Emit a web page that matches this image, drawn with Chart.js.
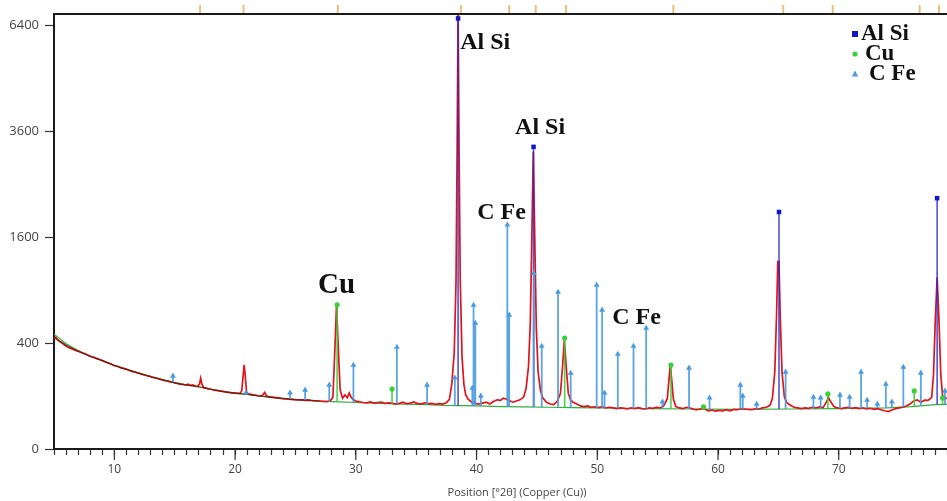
<!DOCTYPE html>
<html>
<head>
<meta charset="utf-8">
<script src="https://cdn.jsdelivr.net/npm/chart.js@4.4.1/dist/chart.umd.min.js"></script>
<style>
html, body { margin: 0; padding: 0; background: #fff; overflow: hidden; }
#wrap { width: 947px; height: 501px; overflow: hidden; }
</style>
</head>
<body>
<div id="wrap"><canvas id="xrdCanvas" width="980" height="501"></canvas></div>
<script>
// observed scan: [2theta, counts]
const observed = [
  [5.0,432],[5.15,444],[5.3,425],[5.5,410],[5.7,398],[5.9,382],[6.1,372],[6.3,364],[6.5,356],[6.7,350],
  [6.9,343],[7.1,338],[7.3,330],[7.5,325],[7.7,318],[7.9,310],[8.1,304],[8.3,300],[8.5,292],[8.7,288],
  [8.9,281],[9.1,276],[9.3,268],[9.5,263],[9.7,258],[9.9,250],[10.1,246],[10.3,242],[10.5,236],[10.7,231],
  [10.9,229],[11.1,224],[11.3,218],[11.5,213],[11.7,211],[11.9,206],[12.1,203],[12.3,198],[12.5,195],[12.7,191],
  [12.9,189],[13.1,184],[13.3,181],[13.5,178],[13.7,175],[13.9,171],[14.1,168],[14.3,166],[14.5,163],[14.7,160],
  [14.9,158],[15.1,154],[15.3,152],[15.5,149],[15.7,148],[15.9,146],[16.1,150],[16.3,144],[16.5,146],[16.7,141],
  [16.9,140],[17.05,150],[17.15,178],[17.25,150],[17.4,134],[17.6,132],[17.8,129],[18.0,127],[18.2,124],[18.4,122],
  [18.6,121],[18.8,119],[19.0,118],[19.2,116],[19.4,114],[19.6,113],[19.8,112],[20.0,111],[20.2,110],[20.4,110],
  [20.55,120],[20.65,180],[20.75,252],[20.85,185],[20.95,115],[21.1,108],[21.3,106],[21.5,104],[21.7,103],[21.9,101],
  [22.1,100],[22.3,104],[22.45,114],[22.6,101],[22.8,97],[23.0,96],[23.2,95],[23.4,94],[23.6,93],[23.8,91],
  [24.0,90],[24.3,89],[24.6,88],[24.9,87],[25.2,86],[25.5,86],[25.8,84],[26.1,85],[26.4,83],[26.7,82],
  [27.0,82],[27.3,81],[27.6,80],[27.9,83],[28.1,95],[28.25,320],[28.4,735],[28.55,360],[28.7,125],[28.9,92],
  [29.1,104],[29.3,94],[29.45,112],[29.6,96],[29.8,86],[30.0,82],[30.3,79],[30.6,77],[30.9,76],[31.2,79],
  [31.5,75],[31.8,77],[32.1,78],[32.4,74],[32.7,76],[33.0,75],[33.3,72],[33.6,74],[33.9,78],[34.2,73],
  [34.5,75],[34.8,79],[35.1,74],[35.4,72],[35.7,76],[36.0,73],[36.3,74],[36.6,71],[36.9,73],[37.2,72],
  [37.5,76],[37.75,88],[37.95,150],[38.15,330],[38.3,1000],[38.4,3500],[38.47,6900],[38.55,3300],[38.65,1000],[38.8,300],
  [38.95,150],[39.1,104],[39.3,88],[39.6,78],[39.9,74],[40.2,72],[40.5,75],[40.8,78],[41.1,72],[41.4,80],
  [41.7,86],[42.0,84],[42.2,92],[42.4,90],[42.7,84],[43.0,78],[43.3,82],[43.6,86],[43.9,96],[44.1,130],
  [44.3,240],[44.45,560],[44.58,1600],[44.7,3150],[44.82,1600],[44.95,520],[45.1,210],[45.3,120],[45.5,92],[45.8,78],
  [46.1,72],[46.4,70],[46.7,82],[46.95,110],[47.1,220],[47.27,420],[47.45,220],[47.6,110],[47.8,85],[48.0,78],
  [48.3,72],[48.6,66],[48.9,64],[49.2,66],[49.5,62],[49.8,63],[50.1,61],[50.4,64],[50.7,60],[51.0,62],
  [51.3,60],[51.6,58],[51.9,60],[52.2,59],[52.5,57],[52.8,60],[53.1,58],[53.4,61],[53.7,58],[54.0,57],
  [54.3,60],[54.6,59],[54.9,62],[55.2,60],[55.5,66],[55.8,90],[55.95,180],[56.05,250],[56.15,180],[56.3,90],
  [56.5,64],[56.8,60],[57.1,58],[57.4,62],[57.7,60],[58.0,56],[58.3,55],[58.6,58],[58.9,57],[59.2,52],
  [59.5,54],[59.8,51],[60.1,53],[60.4,52],[60.7,55],[61.0,52],[61.3,56],[61.6,55],[61.9,58],[62.2,57],
  [62.5,56],[62.8,55],[63.1,58],[63.4,57],[63.7,60],[64.0,62],[64.3,68],[64.5,90],[64.7,210],[64.85,640],
  [64.95,1250],[65.05,1250],[65.15,640],[65.3,210],[65.5,95],[65.7,76],[66.0,68],[66.3,62],[66.6,60],[66.9,58],
  [67.2,60],[67.5,59],[67.8,62],[68.1,60],[68.4,63],[68.7,61],[69.0,80],[69.15,95],[69.3,82],[69.6,64],
  [69.9,60],[70.2,58],[70.5,60],[70.8,62],[71.1,59],[71.4,61],[71.7,58],[72.0,60],[72.3,57],[72.6,59],
  [72.9,56],[73.2,58],[73.5,55],[73.8,52],[74.1,50],[74.4,54],[74.7,58],[75.0,60],[75.3,62],[75.6,66],
  [75.9,72],[76.2,82],[76.5,86],[76.8,78],[77.1,85],[77.4,84],[77.7,95],[77.85,200],[78.0,600],[78.15,1050],
  [78.3,600],[78.45,200],[78.6,100],[78.8,94],[79.0,90],[79.3,88]
];

// fitted background
const bgTheta  = [5, 6, 7, 8, 9, 10, 11, 12, 13, 14, 15, 16, 17, 18, 19, 20, 21, 22, 23, 24, 25, 26, 27, 28, 30, 32, 34, 36, 37.2, 40, 42, 44, 46, 48, 50, 54, 58, 62, 66, 70, 74, 76, 78, 79.3];
const bgCounts = [470, 395, 345, 308, 279, 250, 227, 206, 187, 171, 157, 146, 137, 127, 118, 111, 106, 100, 95, 91, 87, 85, 82, 80, 77, 74, 72, 70, 68, 66, 64, 63, 62, 61, 60, 58, 57, 56, 57, 58, 60, 64, 70, 72];

// calculated profile (low angle part)
const calcTheta  = [5, 6, 7, 8, 9, 10, 11, 12, 13, 14, 15, 16, 17, 18, 19, 20, 21, 22, 23, 24, 25, 26, 27];
const calcCounts = [440, 385, 340, 305, 278, 248, 226, 205, 186, 170, 156, 145, 138, 127, 117, 111, 106, 100, 95, 90, 87, 85, 82];

// reference peak lists
const phaseNames = ['Al Si', 'Cu', 'C Fe'];
const alsiPeaks   = [38.47, 44.72, 65.05, 78.15];
const alsiHeights = [6600, 3250, 2000, 2240];
const cuPeaks     = [28.45, 33.0, 47.3, 56.1, 58.8, 69.1, 76.25, 78.6];
const cuHeights   = [740, 128, 438, 251, 63, 108, 120, 93];
const cfePeaks    = [14.85, 20.9, 24.55, 25.8, 27.8, 29.8, 33.4, 35.9, 38.2, 39.65, 39.75, 39.9, 40.35, 42.55, 42.7,
                     44.75, 45.4, 46.75, 47.8, 49.95, 50.4, 50.6, 51.7, 53.0, 54.05, 55.4, 57.6, 59.3, 61.85, 62.05,
                     63.2, 65.6, 67.9, 68.5, 70.1, 70.9, 71.85, 72.35, 73.2, 73.9, 74.4, 75.35, 76.8, 78.8];
const cfeHeights  = [190, 112, 112, 124, 146, 251, 370, 146, 180, 132, 738, 565, 100, 1790, 640,
                     1100, 377, 877, 205, 957, 688, 112, 321, 377, 521, 79, 234, 93, 146, 100,
                     72, 211, 96, 93, 104, 96, 211, 85, 72, 150, 79, 239, 206, 120];

// peak search marks along the top frame
const peakMarks = [17.1, 20.7, 28.5, 38.7, 42.7, 44.9, 47.4, 56.3, 65.4, 69.5, 76.7, 78.3];

const yTicks = [0, 400, 1600, 3600, 6400];

// square-root intensity axis
class SqrtScale extends Chart.LinearScale {
  getPixelForValue(value) {
    if (value === null || value === undefined || isNaN(value)) return NaN;
    const lo = Math.sqrt(Math.max(this.min, 0));
    const hi = Math.sqrt(this.max);
    return this.getPixelForDecimal((Math.sqrt(Math.max(value, 0)) - lo) / (hi - lo));
  }
  getValueForPixel(pixel) {
    const lo = Math.sqrt(Math.max(this.min, 0));
    const hi = Math.sqrt(this.max);
    const s = lo + this.getDecimalForPixel(pixel) * (hi - lo);
    return s * s;
  }
}
SqrtScale.id = 'sqrt';
SqrtScale.defaults = Chart.LinearScale.defaults;
Chart.register(SqrtScale);

function bgAt(t) {
  for (let i = 1; i < bgTheta.length; i++) {
    if (t <= bgTheta[i]) {
      const f = (t - bgTheta[i - 1]) / (bgTheta[i] - bgTheta[i - 1]);
      return bgCounts[i - 1] + f * (bgCounts[i] - bgCounts[i - 1]);
    }
  }
  return bgCounts[bgCounts.length - 1];
}

function sticks(pos, h) {
  const pts = [];
  pos.forEach((p, i) => {
    pts.push({x: p, y: bgAt(p)}, {x: p, y: h[i]}, {x: p, y: null});
  });
  return pts;
}

const topOnly = r => ctx => (ctx.dataIndex % 3 === 1 ? r : 0);

const phaseLabels = [
  {text: 'Al Si', theta: 38.64, counts: 5868, size: 24},
  {text: 'Al Si', theta: 43.19, counts: 3670, size: 24},
  {text: 'C Fe',  theta: 40.05, counts: 1983, size: 24},
  {text: 'Cu',    theta: 26.87, counts: 957,  size: 29},
  {text: 'C Fe',  theta: 51.23, counts: 610,  size: 24}
];

const legendStyles = [
  {color: '#1414c8', shape: 'rect'},
  {color: '#3ccf3c', shape: 'circle'},
  {color: '#4a9be0', shape: 'triangle'}
];

const extras = {
  id: 'extras',
  afterDraw(chart) {
    const {ctx, chartArea: a, scales: {x, y}} = chart;
    ctx.save();
    // top frame line
    ctx.strokeStyle = '#1a1a1a';
    ctx.lineWidth = 2;
    ctx.beginPath(); ctx.moveTo(a.left - 1, a.top); ctx.lineTo(a.right, a.top); ctx.stroke();
    // longer ticks every 10 degrees
    ctx.strokeStyle = '#333';
    ctx.lineWidth = 1.2;
    for (let v = 10; v <= 80; v += 10) {
      const px = x.getPixelForValue(v);
      ctx.beginPath(); ctx.moveTo(px, a.bottom); ctx.lineTo(px, a.bottom + 11); ctx.stroke();
    }
    // peak marks
    ctx.strokeStyle = '#e3c27f';
    ctx.lineWidth = 2;
    peakMarks.forEach(v => {
      const px = x.getPixelForValue(v);
      ctx.beginPath(); ctx.moveTo(px, a.top - 9); ctx.lineTo(px, a.top - 1); ctx.stroke();
    });
    // phase labels
    ctx.fillStyle = '#111';
    ctx.textBaseline = 'middle';
    ctx.textAlign = 'left';
    phaseLabels.forEach(l => {
      ctx.font = 'bold ' + l.size + 'px "Liberation Serif"';
      ctx.fillText(l.text, x.getPixelForValue(l.theta), y.getPixelForValue(l.counts));
    });
    // legend
    ctx.font = 'bold 23px "Liberation Serif"';
    phaseNames.forEach((name, i) => {
      const my = 34 + i * 20;
      const mx = 855;
      const st = legendStyles[i];
      ctx.fillStyle = st.color;
      ctx.beginPath();
      if (st.shape === 'rect') ctx.rect(mx - 3, my - 3, 6, 6);
      else if (st.shape === 'circle') ctx.arc(mx, my, 2.6, 0, Math.PI * 2);
      else { ctx.moveTo(mx, my - 3.5); ctx.lineTo(mx + 3.2, my + 2.5); ctx.lineTo(mx - 3.2, my + 2.5); ctx.closePath(); }
      ctx.fill();
      ctx.fillStyle = '#111';
      ctx.fillText(name, mx + 6 + i * 4, my);
    });
    ctx.restore();
  }
};

new Chart(document.getElementById('xrdCanvas').getContext('2d'), {
  type: 'line',
  data: {
    datasets: [
      {
        label: 'C Fe', data: sticks(cfePeaks, cfeHeights),
        borderColor: 'rgba(74,155,224,0.9)', backgroundColor: '#4a9be0', borderWidth: 1.8,
        pointStyle: 'triangle', pointRadius: topOnly(3.4), pointBorderWidth: 0, spanGaps: false, order: 1
      },
      {
        label: 'Al Si', data: sticks(alsiPeaks, alsiHeights),
        borderColor: 'rgba(40,40,205,0.8)', backgroundColor: '#1414c8', borderWidth: 1.6,
        pointStyle: 'rect', pointRadius: topOnly(3.2), pointBorderWidth: 0, spanGaps: false, order: 2
      },
      {
        label: 'Cu', data: sticks(cuPeaks, cuHeights),
        borderColor: 'rgba(60,205,60,0.9)', backgroundColor: '#3ccf3c', borderWidth: 1.6,
        pointStyle: 'circle', pointRadius: topOnly(2.6), pointBorderWidth: 0, spanGaps: false, order: 3
      },
      {
        label: 'calculated', data: calcTheta.map((t, i) => ({x: t, y: calcCounts[i]})),
        borderColor: 'rgba(80,30,15,0.75)', borderWidth: 1.2, pointRadius: 0, order: 4
      },
      {
        label: 'observed', data: observed.map(p => ({x: p[0], y: p[1]})),
        borderColor: '#e0141b', borderWidth: 1.7, pointRadius: 0, order: 5
      },
      {
        label: 'background', data: bgTheta.map((t, i) => ({x: t, y: bgCounts[i]})),
        borderColor: '#2fae3a', borderWidth: 1.2, pointRadius: 0, order: 6
      }
    ]
  },
  options: {
    responsive: false,
    animation: false,
    events: [],
    layout: {padding: {top: 14, left: 0, right: 0, bottom: 0}},
    plugins: {legend: {display: false}, tooltip: {enabled: false}},
    scales: {
      x: {
        type: 'linear', min: 5, max: 81.7,
        afterBuildTicks: s => { s.ticks = []; for (let v = 5; v <= 81; v++) s.ticks.push({value: v}); },
        afterFit: s => { s.height = 52; },
        border: {display: true, color: '#1a1a1a', width: 2},
        grid: {display: true, drawOnChartArea: false, drawTicks: true, tickLength: 6, tickColor: '#333', tickWidth: 1.2},
        ticks: {
          autoSkip: false, maxRotation: 0, padding: 7, color: '#444',
          font: {family: 'Open Sans', size: 12},
          callback: v => (v % 10 === 0 ? String(v) : '')
        },
        title: {
          display: true, text: 'Position [°2θ] (Copper (Cu))', color: '#444',
          font: {family: 'Open Sans', size: 11}, padding: {top: 0, bottom: 2}
        }
      },
      y: {
        type: 'sqrt', min: 0, max: 6737,
        afterBuildTicks: s => { s.ticks = yTicks.map(v => ({value: v})); },
        afterFit: s => { s.width = 54; },
        border: {display: true, color: '#1a1a1a', width: 2},
        grid: {display: true, drawOnChartArea: false, tickLength: 9, tickColor: '#333', tickWidth: 1.2},
        ticks: {padding: 6, color: '#444', font: {family: 'Open Sans', size: 13}, callback: v => String(v)}
      }
    }
  },
  plugins: [extras]
});
</script>
</body>
</html>
